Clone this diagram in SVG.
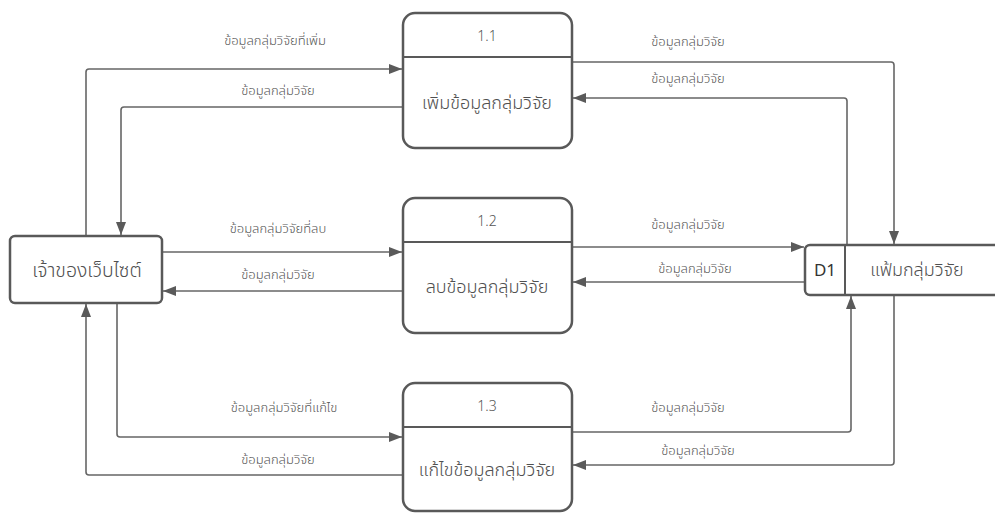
<svg xmlns="http://www.w3.org/2000/svg" width="995" height="513" viewBox="0 0 995 513">
<style>
.box{fill:#fff;stroke:#595959;stroke-width:2.5}
.div{stroke:#595959;stroke-width:2}
.c{fill:none;stroke:#666;stroke-width:1.6;stroke-linejoin:round}
.lbl{font-family:"Noto Sans Thai","Noto Sans","Liberation Sans",sans-serif;font-size:13px;font-weight:300;fill:#555;text-anchor:middle}
.nt{font-family:"Noto Sans Thai","Noto Sans","Liberation Sans",sans-serif;font-size:18px;font-weight:300;fill:#505050;text-anchor:middle}
.num{font-family:"Noto Sans","Liberation Sans",sans-serif;font-size:14px;font-weight:300;fill:#555;text-anchor:middle}
</style>
<defs>
<marker id="ah" markerUnits="userSpaceOnUse" markerWidth="14" markerHeight="12" viewBox="0 0 14 12" refX="13" refY="6" orient="auto">
<path d="M0,1 L13,6 L0,11 Z" fill="#5a5a5a"/>
</marker>
</defs>
<rect width="995" height="513" fill="#fff"/>
<g id="connectors">
<path class="c" d="M86,236 V72 Q86,69 89,69 H402" marker-end="url(#ah)"/>
<path class="c" d="M403,107 H124 Q121,107 121,110 V235" marker-end="url(#ah)"/>
<path class="c" d="M572,62 H891 Q894,62 894,65 V244" marker-end="url(#ah)"/>
<path class="c" d="M847,245 V101 Q847,98 844,98 H573" marker-end="url(#ah)"/>
<path class="c" d="M162,252 H402" marker-end="url(#ah)"/>
<path class="c" d="M403,291 H163" marker-end="url(#ah)"/>
<path class="c" d="M572,247 H804" marker-end="url(#ah)"/>
<path class="c" d="M805,282 H573" marker-end="url(#ah)"/>
<path class="c" d="M117,303 V434 Q117,437 120,437 H402" marker-end="url(#ah)"/>
<path class="c" d="M403,475 H89 Q86,475 86,472 V304" marker-end="url(#ah)"/>
<path class="c" d="M572,432 H848 Q851,432 851,429 V296" marker-end="url(#ah)"/>
<path class="c" d="M894,295 V462 Q894,465 891,465 H573" marker-end="url(#ah)"/>
<text class="lbl" x="275" y="45">ข้อมูลกลุ่มวิจัยที่เพิ่ม</text>
<text class="lbl" x="278" y="95">ข้อมูลกลุ่มวิจัย</text>
<text class="lbl" x="688" y="46">ข้อมูลกลุ่มวิจัย</text>
<text class="lbl" x="688" y="83">ข้อมูลกลุ่มวิจัย</text>
<text class="lbl" x="278" y="233">ข้อมูลกลุ่มวิจัยที่ลบ</text>
<text class="lbl" x="278" y="279">ข้อมูลกลุ่มวิจัย</text>
<text class="lbl" x="688" y="229">ข้อมูลกลุ่มวิจัย</text>
<text class="lbl" x="695" y="273">ข้อมูลกลุ่มวิจัย</text>
<text class="lbl" x="284" y="412">ข้อมูลกลุ่มวิจัยที่แก้ไข</text>
<text class="lbl" x="278" y="464">ข้อมูลกลุ่มวิจัย</text>
<text class="lbl" x="688" y="412">ข้อมูลกลุ่มวิจัย</text>
<text class="lbl" x="698" y="455">ข้อมูลกลุ่มวิจัย</text>
</g>
<g id="owner">
<rect class="box" x="10" y="236" width="152" height="67" rx="5"/>
<text class="nt" x="87" y="277" style="font-size:19.5px">เจ้าของเว็บไซต์</text>
</g>
<g id="p1_1">
<rect class="box" x="403" y="13" width="169" height="135" rx="12"/>
<line class="div" x1="403" y1="57" x2="572" y2="57"/>
<text class="num" x="487" y="41">1.1</text>
<text class="nt" x="487" y="109">เพิ่มข้อมูลกลุ่มวิจัย</text>
</g>
<g id="p1_2">
<rect class="box" x="403" y="198" width="169" height="135" rx="12"/>
<line class="div" x1="403" y1="242" x2="572" y2="242"/>
<text class="num" x="487" y="226">1.2</text>
<text class="nt" x="487" y="293">ลบข้อมูลกลุ่มวิจัย</text>
</g>
<g id="p1_3">
<rect class="box" x="403" y="383" width="169" height="128" rx="12"/>
<line class="div" x1="403" y1="427" x2="572" y2="427"/>
<text class="num" x="487" y="411">1.3</text>
<text class="nt" x="487" y="476">แก้ไขข้อมูลกลุ่มวิจัย</text>
</g>
<g id="d1">
<rect class="box" x="805" y="245" width="200" height="50" rx="5"/>
<line class="div" x1="845" y1="245" x2="845" y2="295"/>
<text class="nt" x="825" y="276" style="font-size:17px;font-weight:400;fill:#333">D1</text>
<text class="nt" x="917" y="276">แฟ้มกลุ่มวิจัย</text>
</g>
</svg>
